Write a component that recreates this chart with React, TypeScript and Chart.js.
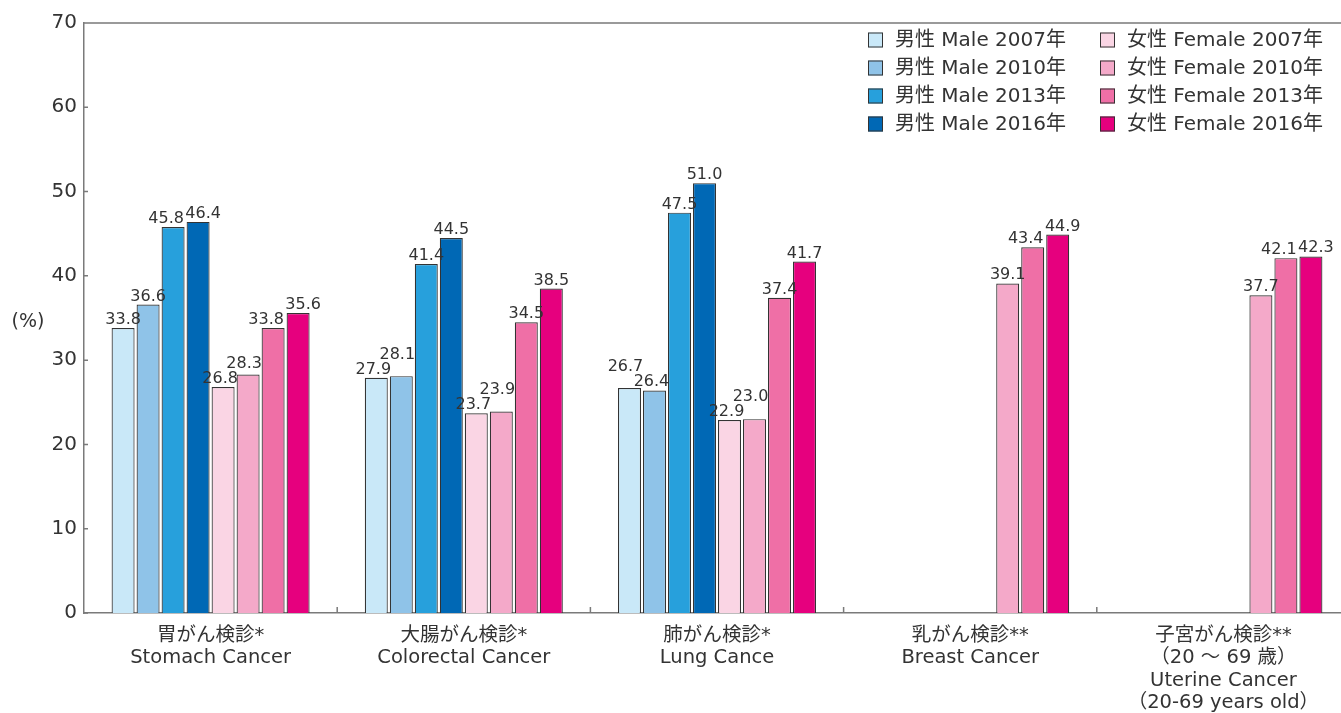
import React, { useEffect, useRef } from "react";
import { Chart, registerables } from "chart.js";

Chart.register(...registerables);

const FONT = '"DejaVu Sans", "Noto Sans CJK JP", sans-serif';

const categories: string[][] = [
  ["胃がん検診*", "Stomach Cancer"],
  ["大腸がん検診*", "Colorectal Cancer"],
  ["肺がん検診*", "Lung Cance"],
  ["乳がん検診**", "Breast Cancer"],
  ["子宮がん検診**", "（20 ～ 69 歳）", "Uterine Cancer", "（20-69 years old）"],
];

const seriesLabels = [
  "男性 Male 2007年",
  "男性 Male 2010年",
  "男性 Male 2013年",
  "男性 Male 2016年",
  "女性 Female 2007年",
  "女性 Female 2010年",
  "女性 Female 2013年",
  "女性 Female 2016年",
];

const male2007 = [33.8, 27.9, 26.7, null, null];
const male2010 = [36.6, 28.1, 26.4, null, null];
const male2013 = [45.8, 41.4, 47.5, null, null];
const male2016 = [46.4, 44.5, 51.0, null, null];
const female2007 = [26.8, 23.7, 22.9, null, null];
const female2010 = [28.3, 23.9, 23.0, 39.1, 37.7];
const female2013 = [33.8, 34.5, 37.4, 43.4, 42.1];
const female2016 = [35.6, 38.5, 41.7, 44.9, 42.3];

const seriesValues = [male2007, male2010, male2013, male2016, female2007, female2010, female2013, female2016];

const seriesColors = [
  "#c9e8f8",
  "#8fc3e8",
  "#27a0dc",
  "#0068b5",
  "#fad5e4",
  "#f4a9c9",
  "#ef6fa6",
  "#e6007e",
];

const yTicks = [0, 10, 20, 30, 40, 50, 60, 70];
const yUnit = "(%)";

const AXIS_COLOR = "#7a7a7a";
const TEXT_COLOR = "#333333";
const BAR_BORDER = "#333333";

const framePlugin = {
  id: "frame",
  afterDraw(chart: any) {
    const { ctx, chartArea } = chart;
    const { left, right, top, bottom } = chartArea;
    ctx.save();
    ctx.strokeStyle = AXIS_COLOR;
    ctx.lineWidth = 1.5;
    ctx.beginPath();
    ctx.moveTo(left, top);
    ctx.lineTo(right, top);
    const ys = chart.scales.y;
    ys.ticks.forEach((t: any) => {
      const py = ys.getPixelForValue(t.value);
      ctx.moveTo(left, py);
      ctx.lineTo(left + 4, py);
    });
    const n = chart.data.labels.length;
    const w = (right - left) / n;
    for (let k = 1; k < n; k++) {
      const px = left + k * w;
      ctx.moveTo(px, bottom);
      ctx.lineTo(px, bottom - 6);
    }
    ctx.stroke();

    // unit label
    ctx.fillStyle = TEXT_COLOR;
    ctx.font = `19px ${FONT}`;
    ctx.textAlign = "center";
    ctx.textBaseline = "middle";
    ctx.fillText(yUnit, 28, 322);
    ctx.restore();
  },
};

const legendPlugin = {
  id: "customLegend",
  afterDraw(chart: any) {
    const { ctx } = chart;
    const colX = [868, 1100];
    const rowY = [40, 68, 96, 124];
    ctx.save();
    ctx.font = `20px ${FONT}`;
    ctx.textAlign = "left";
    ctx.textBaseline = "middle";
    chart.data.datasets.forEach((ds: any, i: number) => {
      const col = i < 4 ? 0 : 1;
      const row = i % 4;
      const x = colX[col];
      const y = rowY[row];
      ctx.fillStyle = ds.backgroundColor;
      ctx.fillRect(x, y - 7.5, 15, 15);
      ctx.strokeStyle = BAR_BORDER;
      ctx.lineWidth = 1;
      ctx.strokeRect(x + 0.5, y - 7, 14, 14);
      ctx.fillStyle = TEXT_COLOR;
      ctx.fillText(ds.label, x + 27, y + 1);
    });
    ctx.restore();
  },
};

const valueLabelPlugin = {
  id: "valueLabels",
  afterDatasetsDraw(chart: any) {
    const { ctx } = chart;
    ctx.save();
    ctx.font = `16px ${FONT}`;
    ctx.fillStyle = TEXT_COLOR;
    ctx.textAlign = "center";
    ctx.textBaseline = "alphabetic";
    const n = chart.data.labels.length;
    for (let j = 0; j < n; j++) {
      const items = chart.data.datasets.map((ds: any, i: number) => {
        const v = ds.data[j];
        if (v === null || v === undefined) return null;
        const el = chart.getDatasetMeta(i).data[j];
        return { v, top: el.y, cx: el.x, base: el.y - 4 };
      });
      // stacked (raised) labels for the 2007/2010 pairs
      [[0, 1], [4, 5]].forEach(([a, b]) => {
        const A = items[a];
        const B = items[b];
        if (A && B && Math.abs(A.top - B.top) < 14) {
          const hi = A.v >= B.v ? A : B;
          const lo = hi === A ? B : A;
          hi.base = Math.min(hi.base, lo.base - 15);
          hi.cx -= 4;
          lo.cx -= 3;
        }
      });
      // spread labels horizontally for 2013/2016 pairs
      [[2, 3], [6, 7]].forEach(([a, b]) => {
        const A = items[a];
        const B = items[b];
        if (A && B && Math.abs(A.top - B.top) < 16) {
          A.cx -= 7;
          B.cx += 5;
        }
      });
      items.forEach((it: any) => {
        if (it) ctx.fillText(it.v.toFixed(1), it.cx, it.base);
      });
    }
    ctx.restore();
  },
};

export default function App() {
  const canvasRef = useRef<HTMLCanvasElement | null>(null);

  useEffect(() => {
    if (!canvasRef.current) return;
    const chart = new Chart(canvasRef.current, {
      type: "bar",
      data: {
        labels: categories,
        datasets: seriesValues.map((vals, i) => ({
          label: seriesLabels[i],
          data: vals,
          backgroundColor: seriesColors[i],
          borderColor: BAR_BORDER,
          borderWidth: 1.2,
          categoryPercentage: 0.79,
          barPercentage: 0.92,
        })),
      },
      options: {
        responsive: false,
        animation: false,
        events: [],
        layout: { padding: { top: 23, left: 0, right: 2, bottom: 0 } },
        plugins: {
          legend: { display: false },
          tooltip: { enabled: false },
          title: { display: false },
        },
        scales: {
          x: {
            grid: { display: false, drawTicks: false },
            border: { display: true, color: AXIS_COLOR, width: 1.5 },
            ticks: {
              color: TEXT_COLOR,
              font: { family: FONT, size: 19.5, lineHeight: 1.14 },
              padding: 12,
              autoSkip: false,
              maxRotation: 0,
              minRotation: 0,
            },
            afterFit(s: any) {
              s.height = 100;
            },
          },
          y: {
            min: 0,
            max: 70,
            afterBuildTicks(s: any) {
              s.ticks = yTicks.map((v) => ({ value: v }));
            },
            grid: { display: false, drawTicks: false },
            border: { display: true, color: AXIS_COLOR, width: 1.5 },
            ticks: {
              color: TEXT_COLOR,
              font: { family: FONT, size: 20 },
              padding: 7,
            },
            afterFit(s: any) {
              s.width = 84;
            },
          },
        },
      },
      plugins: [valueLabelPlugin, framePlugin, legendPlugin],
    });
    return () => chart.destroy();
  }, []);

  return (
    <div
      style={{
        position: "fixed",
        left: 0,
        top: 0,
        width: 1341,
        height: 713,
        overflow: "hidden",
        background: "#ffffff",
      }}
    >
      <canvas ref={canvasRef} width={1352} height={713} style={{ display: "block" }} />
    </div>
  );
}
